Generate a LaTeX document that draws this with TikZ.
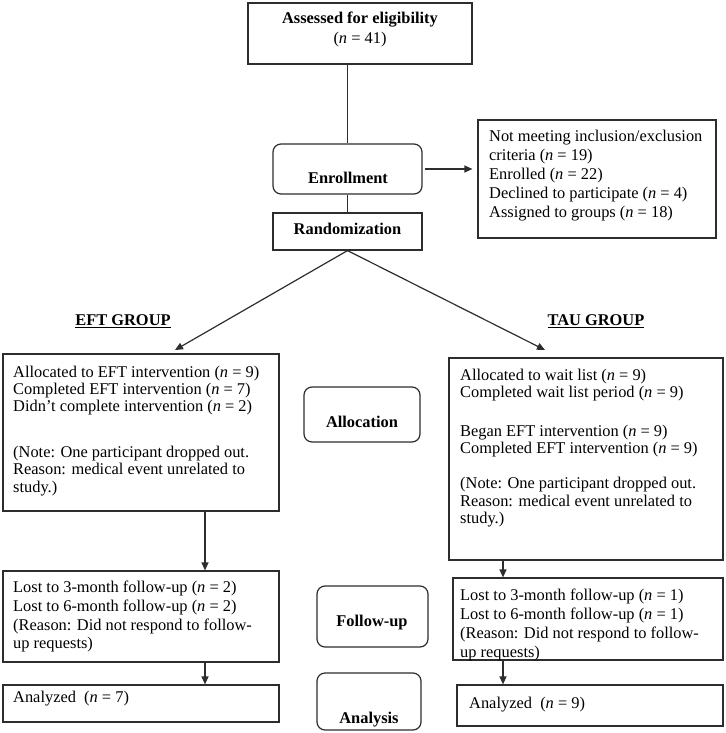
\documentclass[tikz,border=0pt]{standalone}
\usepackage{fontspec}
\setmainfont{Liberation Serif}
\usetikzlibrary{arrows.meta}
\definecolor{lc}{RGB}{45,45,45}
\begin{document}
\begin{tikzpicture}[x=1pt,y=-1pt,
  box/.style={draw=lc, line width=1.2pt, inner sep=0pt, rectangle},
  rbox/.style={box, rounded corners=8pt},
  txt/.style={inner sep=0pt, align=left, anchor=north west, font=\fontsize{16.4}{19}\selectfont},
  lbl/.style={inner sep=0pt, anchor=base, font=\fontsize{16.4}{19}\selectfont\bfseries},
  conn/.style={draw=lc, line width=1.2pt},
  arr/.style={conn, -{Triangle[length=8pt,width=7pt]}}]
\useasboundingbox (0,0) rectangle (725,733);

% boxes
\node[box, minimum width=224pt, minimum height=61pt] (assess) at (360,33.5) {};
\node[rbox, minimum width=149pt, minimum height=50pt] (enroll) at (347.5,169) {};
\node[box, minimum width=149pt, minimum height=37pt] (rand) at (347.5,231.5) {};
\node[box, minimum width=238pt, minimum height=118pt] (info) at (597,179) {};
\node[box, minimum width=276pt, minimum height=157pt] (eft) at (141,432.5) {};
\node[box, minimum width=274pt, minimum height=202pt] (tau) at (586,459) {};
\node[rbox, minimum width=116pt, minimum height=55pt] (alloc) at (362,414.5) {};
\node[box, minimum width=276pt, minimum height=91pt] (eftfu) at (141,616.5) {};
\node[box, minimum width=270pt, minimum height=82pt] (taufu) at (588,619) {};
\node[rbox, minimum width=111pt, minimum height=61pt] (fu) at (372.5,616.5) {};
\node[box, minimum width=276pt, minimum height=37pt] (eftan) at (141,703.5) {};
\node[box, minimum width=266pt, minimum height=41pt] (tauan) at (590,705.5) {};
\node[rbox, minimum width=104pt, minimum height=57pt] (an) at (369,701.5) {};

% texts
\node[inner sep=0pt, align=center, anchor=north, font=\fontsize{16.4}{20}\selectfont] (assesst) at (360,12)
  {\textbf{Assessed for eligibility}\\(\textit{n} = 41)};
\node[lbl] (enrollt) at (348,183.5) {Enrollment};
\node[lbl] (randt) at (347.5,234.5) {Randomization};
\node[txt] (infot) at (489,130) {Not meeting inclusion/exclusion\\criteria (\textit{n} = 19)\\Enrolled (\textit{n} = 22)\\Declined to participate (\textit{n} = 4)\\Assigned to groups (\textit{n} = 18)};
\node[lbl] (eftg) at (123,325.5) {\underline{EFT GROUP}};
\node[lbl] (taug) at (596,325.5) {\underline{TAU GROUP}};
\node[txt, font=\fontsize{16.4}{17.3}\selectfont] (eftt) at (13,365.7) {Allocated to EFT intervention (\textit{n} = 9)\\Completed EFT intervention (\textit{n} = 7)\\Didn’t complete intervention (\textit{n} = 2)\\[28.4pt](Note: One participant dropped out.\\Reason: medical event unrelated to\\study.)};
\node[txt, font=\fontsize{16.4}{17.2}\selectfont] (taut) at (460,369) {Allocated to wait list (\textit{n} = 9)\\Completed wait list period (\textit{n} = 9)\\[21.8pt]Began EFT intervention (\textit{n} = 9)\\Completed EFT intervention (\textit{n} = 9)\\[17.8pt](Note: One participant dropped out.\\Reason: medical event unrelated to\\study.)};
\node[lbl] (alloct) at (362,427.5) {Allocation};
\node[txt, font=\fontsize{16.4}{18.7}\selectfont] (eftfut) at (13,581) {Lost to 3-month follow-up (\textit{n} = 2)\\Lost to 6-month follow-up (\textit{n} = 2)\\(Reason: Did not respond to follow-\\up requests)};
\node[txt, font=\fontsize{16.4}{19}\selectfont] (taufut) at (460,589) {Lost to 3-month follow-up (\textit{n} = 1)\\Lost to 6-month follow-up (\textit{n} = 1)\\(Reason: Did not respond to follow-\\up requests)};
\node[lbl] (fut) at (372,626.5) {Follow-up};
\node[txt] (eftant) at (13,691) {Analyzed\ \ (\textit{n} = 7)};
\node[txt] (tauant) at (469,697) {Analyzed\ \ (\textit{n} = 9)};
\node[lbl] (ant) at (369,723.5) {Analysis};

% connector helpers
\coordinate (eftin) at (175,350);
\coordinate (tauin) at (545,350);
\coordinate (ex) at (205,0);
\coordinate (tx) at (503,0);

% connectors
\draw[conn] (assess.south -| enroll.north) -- (enroll.north);
\draw[conn] (enroll.south) -- (rand.north);
\draw[arr, shorten <=2pt, shorten >=5pt] (enroll.east) -- (enroll.east -| info.west);
\draw[arr] (rand.south) -- (eftin);
\draw[arr] (rand.south) -- (tauin);
\draw[arr] (eft.south -| ex) -- (eftfu.north -| ex);
\draw[arr] (eftfu.south -| ex) -- (eftan.north -| ex);
\draw[arr] (tau.south -| tx) -- (taufu.north -| tx);
\draw[arr] (taufu.south -| tx) -- (tauan.north -| tx);
\end{tikzpicture}
\end{document}
